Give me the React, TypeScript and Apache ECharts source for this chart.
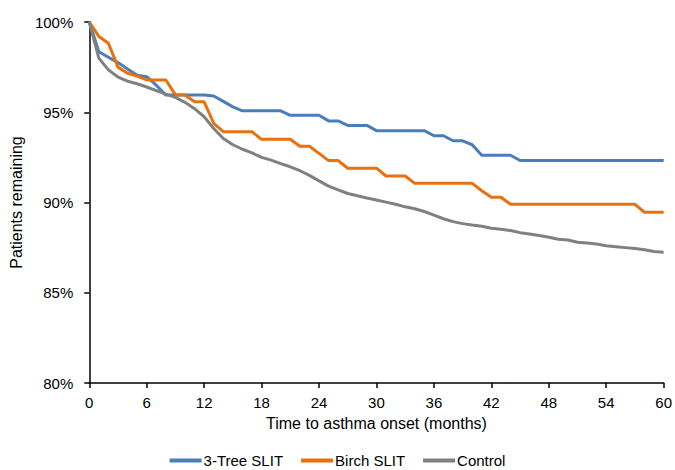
import React, { useEffect, useRef } from "react";
import * as echarts from "echarts";

const months: number[] = Array.from({ length: 61 }, (_, i) => i);

const treeSlit: number[] = [
  100, 98.35, 98.05, 97.75, 97.4, 97.05, 96.97, 96.5, 95.95, 95.95,
  95.95, 95.95, 95.95, 95.9, 95.6, 95.3, 95.08, 95.08, 95.08, 95.08,
  95.08, 94.83, 94.83, 94.83, 94.83, 94.52, 94.52, 94.27, 94.27, 94.27,
  93.98, 93.98, 93.98, 93.98, 93.98, 93.98, 93.7, 93.7, 93.42, 93.42,
  93.2, 92.62, 92.62, 92.62, 92.62, 92.33, 92.33, 92.33, 92.33, 92.33,
  92.33, 92.33, 92.33, 92.33, 92.33, 92.33, 92.33, 92.33, 92.33, 92.33,
  92.33,
];

const birchSlit: number[] = [
  100, 99.2, 98.82, 97.5, 97.16, 97.0, 96.79, 96.79, 96.79, 95.96,
  95.96, 95.58, 95.58, 94.39, 93.92, 93.92, 93.92, 93.92, 93.5, 93.5,
  93.5, 93.5, 93.12, 93.12, 92.72, 92.32, 92.32, 91.9, 91.9, 91.9,
  91.9, 91.47, 91.47, 91.47, 91.06, 91.06, 91.06, 91.06, 91.06, 91.06,
  91.06, 90.65, 90.29, 90.29, 89.9, 89.9, 89.9, 89.9, 89.9, 89.9,
  89.9, 89.9, 89.9, 89.9, 89.9, 89.9, 89.9, 89.9, 89.46, 89.46,
  89.46,
];

const control: number[] = [
  100, 98.0, 97.35, 96.95, 96.72, 96.58, 96.4, 96.2, 96.0, 95.82,
  95.55, 95.2, 94.75, 94.1, 93.55, 93.2, 92.95, 92.75, 92.5, 92.35,
  92.15, 91.98, 91.76, 91.5, 91.2, 90.91, 90.7, 90.5, 90.37, 90.25,
  90.14, 90.02, 89.9, 89.76, 89.65, 89.5, 89.3, 89.1, 88.94, 88.83,
  88.75, 88.68, 88.57, 88.52, 88.45, 88.33, 88.25, 88.17, 88.07, 87.96,
  87.92, 87.8, 87.76, 87.7, 87.6, 87.55, 87.5, 87.45, 87.38, 87.28,
  87.25,
];

const seriesNames: string[] = ["3-Tree SLIT", "Birch SLIT", "Control"];
const colors: string[] = ["#4a7ebb", "#e8700f", "#808080"];

export default function App() {
  const ref = useRef<HTMLDivElement>(null);
  useEffect(() => {
    document.body.style.margin = "0";
    document.body.style.overflow = "hidden";
    if (!ref.current) return;
    const chart = echarts.init(ref.current, undefined, { renderer: "svg" });
    const font = "'Liberation Sans', Arial, sans-serif";
    const seriesData = [treeSlit, birchSlit, control];
    chart.setOption({
      animation: false,
      textStyle: { fontFamily: font },
      color: colors,
      grid: { left: 88, right: 8, top: 22, bottom: 87, containLabel: false },
      legend: {
        bottom: -3,
        left: "center",
        itemWidth: 32,
        itemHeight: 4,
        itemGap: 18,
        icon: "rect",
        textStyle: { fontSize: 15, color: "#000", fontFamily: font, padding: [0, 0, 0, -3] },
        data: seriesNames,
      },
      xAxis: {
        type: "value",
        min: 0,
        max: 60,
        interval: 6,
        name: "Time to asthma onset (months)",
        nameLocation: "middle",
        nameGap: 32,
        nameTextStyle: { fontSize: 16, color: "#000", fontFamily: font },
        axisLine: { show: true, lineStyle: { color: "#000", width: 1.5 } },
        axisTick: { show: true, length: 5, lineStyle: { color: "#000", width: 1.5 } },
        axisLabel: { fontSize: 15, color: "#000", margin: 12, fontFamily: font },
        splitLine: { show: false },
      },
      yAxis: {
        type: "value",
        min: 80,
        max: 100,
        interval: 5,
        name: "Patients remaining",
        nameLocation: "middle",
        nameRotate: 90,
        nameGap: 52,
        nameTextStyle: { fontSize: 16, color: "#000", fontFamily: font },
        axisLine: { show: true, lineStyle: { color: "#000", width: 1.5 } },
        axisTick: { show: true, length: 5, lineStyle: { color: "#000", width: 1.5 } },
        axisLabel: { fontSize: 15, color: "#000", margin: 16, formatter: "{value}%", fontFamily: font },
        splitLine: { show: false },
      },
      series: seriesNames.map((name, i) => ({
        name,
        type: "line",
        showSymbol: false,
        symbol: "none",
        lineStyle: { width: 3, color: colors[i] },
        itemStyle: { color: colors[i] },
        data: months.map((m, j) => [m, seriesData[i][j]]),
      })),
    });
    return () => chart.dispose();
  }, []);
  return <div ref={ref} style={{ width: 675, height: 470 }} />;
}
